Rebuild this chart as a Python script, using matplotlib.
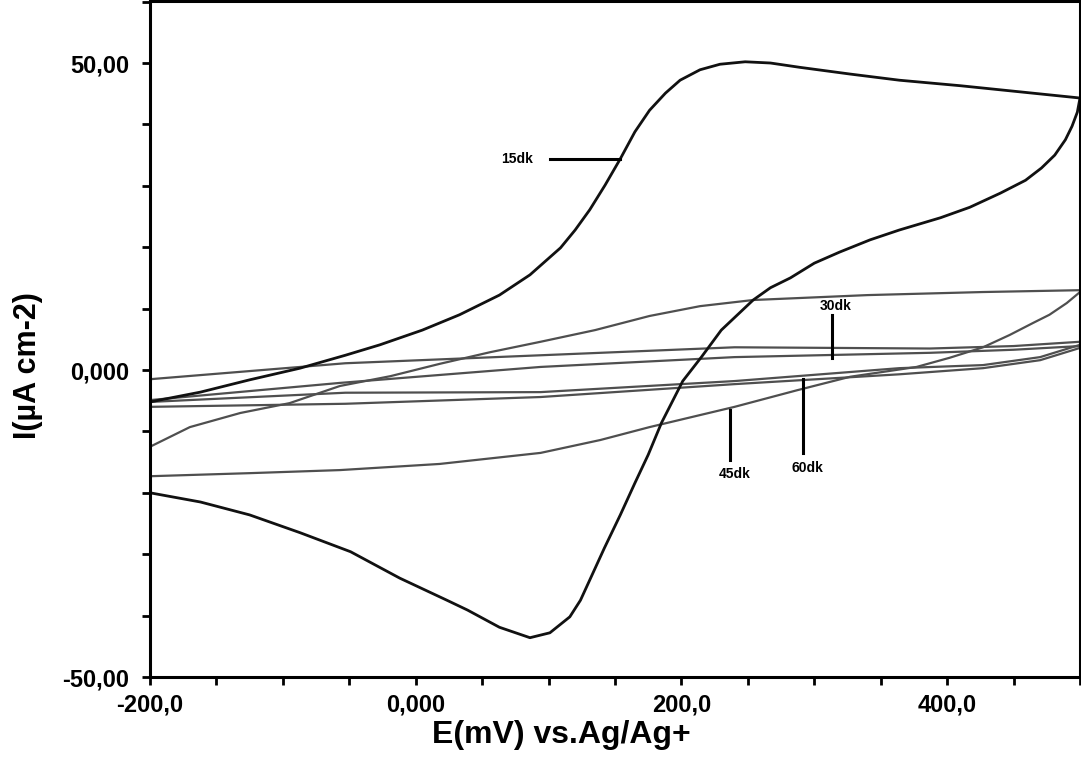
import numpy as np
import matplotlib
matplotlib.use("Agg")
import matplotlib.pyplot as plt
from matplotlib.ticker import FixedLocator, MultipleLocator

plt.rcParams['font.family'] = ['Liberation Sans', 'DejaVu Sans']

# 15dk loop (black): forward sweep then reverse sweep
e_15_fwd = [-200, -162, -125, -87, -53, -27, 5, 33, 63, 86, 109, 120, 131, 142.5, 154, 165,
            176, 188, 199, 214, 229, 248, 267, 289, 327, 364, 410, 455, 500]
i_15_fwd = [-5.2, -3.6, -1.6, 0.3, 2.4, 4.1, 6.5, 9.0, 12.2, 15.5, 19.9, 22.8, 26.1, 30.1, 34.4, 38.8,
            42.3, 45.1, 47.2, 48.9, 49.8, 50.2, 50.0, 49.3, 48.2, 47.2, 46.3, 45.3, 44.3]
e_15_rev = [500, 498, 494, 489, 481, 471, 459, 440, 417, 395, 364, 342, 319, 300, 282, 267,
            254, 230, 215, 201, 185, 175, 165, 154, 142, 131, 124, 116, 101, 86, 63, 39, 23.5,
            -12, -49, -87, -125, -162, -200]
i_15_rev = [44.3, 42.0, 39.7, 37.5, 35.0, 32.9, 30.9, 28.8, 26.5, 24.8, 22.8, 21.2, 19.2, 17.4, 15.0, 13.4,
            11.4, 6.5, 2.1, -1.8, -8.6, -13.8, -18.4, -23.6, -29.0, -34.2, -37.5, -40.2, -42.8, -43.6, -41.9, -39.1, -37.5,
            -33.9, -29.6, -26.5, -23.6, -21.5, -20.0]

# 30dk loop
e_30_up = [-200, -53, 94, 240, 387, 450, 500]
i_30_up = [-1.5, 1.1, 2.4, 3.7, 3.5, 3.9, 4.6]
e_30_lo = [500, 450, 387, 240, 94, -57, -200]
i_30_lo = [3.9, 3.3, 2.8, 2.1, 0.5, -2.1, -4.9]

# 45dk loop
e_45_up = [-200, -170, -132, -95, -57, -19, 18, 56, 94, 135, 176, 214, 254, 340, 427, 500]
i_45_up = [-12.5, -9.3, -7.0, -5.4, -2.6, -1.0, 1.0, 2.9, 4.6, 6.5, 8.8, 10.4, 11.4, 12.2, 12.7, 13.0]
e_45_lo = [500, 490, 477, 465, 447, 427, 402, 377, 327, 287, 240, 176, 139, 94, 18, -57, -125, -200]
i_45_lo = [12.7, 10.9, 9.0, 7.7, 5.7, 3.7, 2.0, 0.5, -1.1, -3.3, -6.0, -9.3, -11.4, -13.5, -15.3, -16.3, -16.8, -17.3]

# 60dk loop
e_60_up = [-200, -53, 94, 240, 364, 427, 470, 500]
i_60_up = [-5.2, -3.7, -3.6, -1.8, 0.3, 0.8, 2.1, 4.1]
e_60_lo = [500, 470, 427, 364, 240, 94, -53, -200]
i_60_lo = [3.6, 1.6, 0.3, -0.7, -2.3, -4.4, -5.5, -6.0]

x_ticks = [-200, 0, 200, 400]
x_labels = ['-200,0', '0,000', '200,0', '400,0']
y_ticks = [-50, 0, 50]
y_labels = ['-50,00', '0,000', '50,00']

gray = '#4f4f4f'

fig = plt.figure(figsize=(10.81, 7.62), dpi=100)
ax = fig.add_axes([150 / 1081, 85 / 762, 930 / 1081, 676 / 762])

for e, i in [(e_30_up + e_30_lo, i_30_up + i_30_lo),
             (e_45_up + e_45_lo, i_45_up + i_45_lo),
             (e_60_up + e_60_lo, i_60_up + i_60_lo)]:
    ax.plot(e, i, color=gray, lw=1.6, solid_joinstyle='round')
ax.plot(e_15_fwd + e_15_rev, i_15_fwd + i_15_rev, color='#111111', lw=2.0,
        solid_joinstyle='round')

ax.set_xlim(-200, 500)
ax.set_ylim(-50, 60.1)

ax.xaxis.set_major_locator(FixedLocator(x_ticks))
ax.set_xticklabels(x_labels)
ax.yaxis.set_major_locator(FixedLocator(y_ticks))
ax.set_yticklabels(y_labels)
ax.xaxis.set_minor_locator(MultipleLocator(50))
ax.yaxis.set_minor_locator(MultipleLocator(10))
ax.tick_params(which='both', direction='out', length=6, width=2, top=False, right=False)
ax.tick_params(axis='x', which='major', pad=6)
ax.tick_params(axis='y', which='major', pad=9)
for lab in ax.get_xticklabels() + ax.get_yticklabels():
    lab.set_fontsize(17)
    lab.set_fontweight('bold')

for s in ax.spines.values():
    s.set_linewidth(2.2)

ax.set_xlabel('E(mV) vs.Ag/Ag+', fontsize=23, fontweight='bold', va='center')
ax.xaxis.set_label_coords(0.442, -0.086)
ax.set_ylabel('I(µA cm-2)', fontsize=22, fontweight='bold', va='center')
ax.yaxis.set_label_coords(-0.131, 0.46)

# curve labels with leader lines
ax.text(76, 34.4, '15dk', fontsize=10, fontweight='bold', ha='center', va='center')
ax.plot([101, 154], [34.4, 34.4], color='black', lw=2.2)
ax.text(316, 10.4, '30dk', fontsize=10, fontweight='bold', ha='center', va='center')
ax.plot([313, 313], [9.0, 2.0], color='black', lw=2.2)
ax.text(240, -16.9, '45dk', fontsize=10, fontweight='bold', ha='center', va='center')
ax.plot([236.6, 236.6], [-6.5, -14.7], color='black', lw=2.2)
ax.text(294.5, -16.0, '60dk', fontsize=10, fontweight='bold', ha='center', va='center')
ax.plot([291.5, 291.5], [-1.5, -13.5], color='black', lw=2.2)

fig.savefig('out.png', dpi=100)
